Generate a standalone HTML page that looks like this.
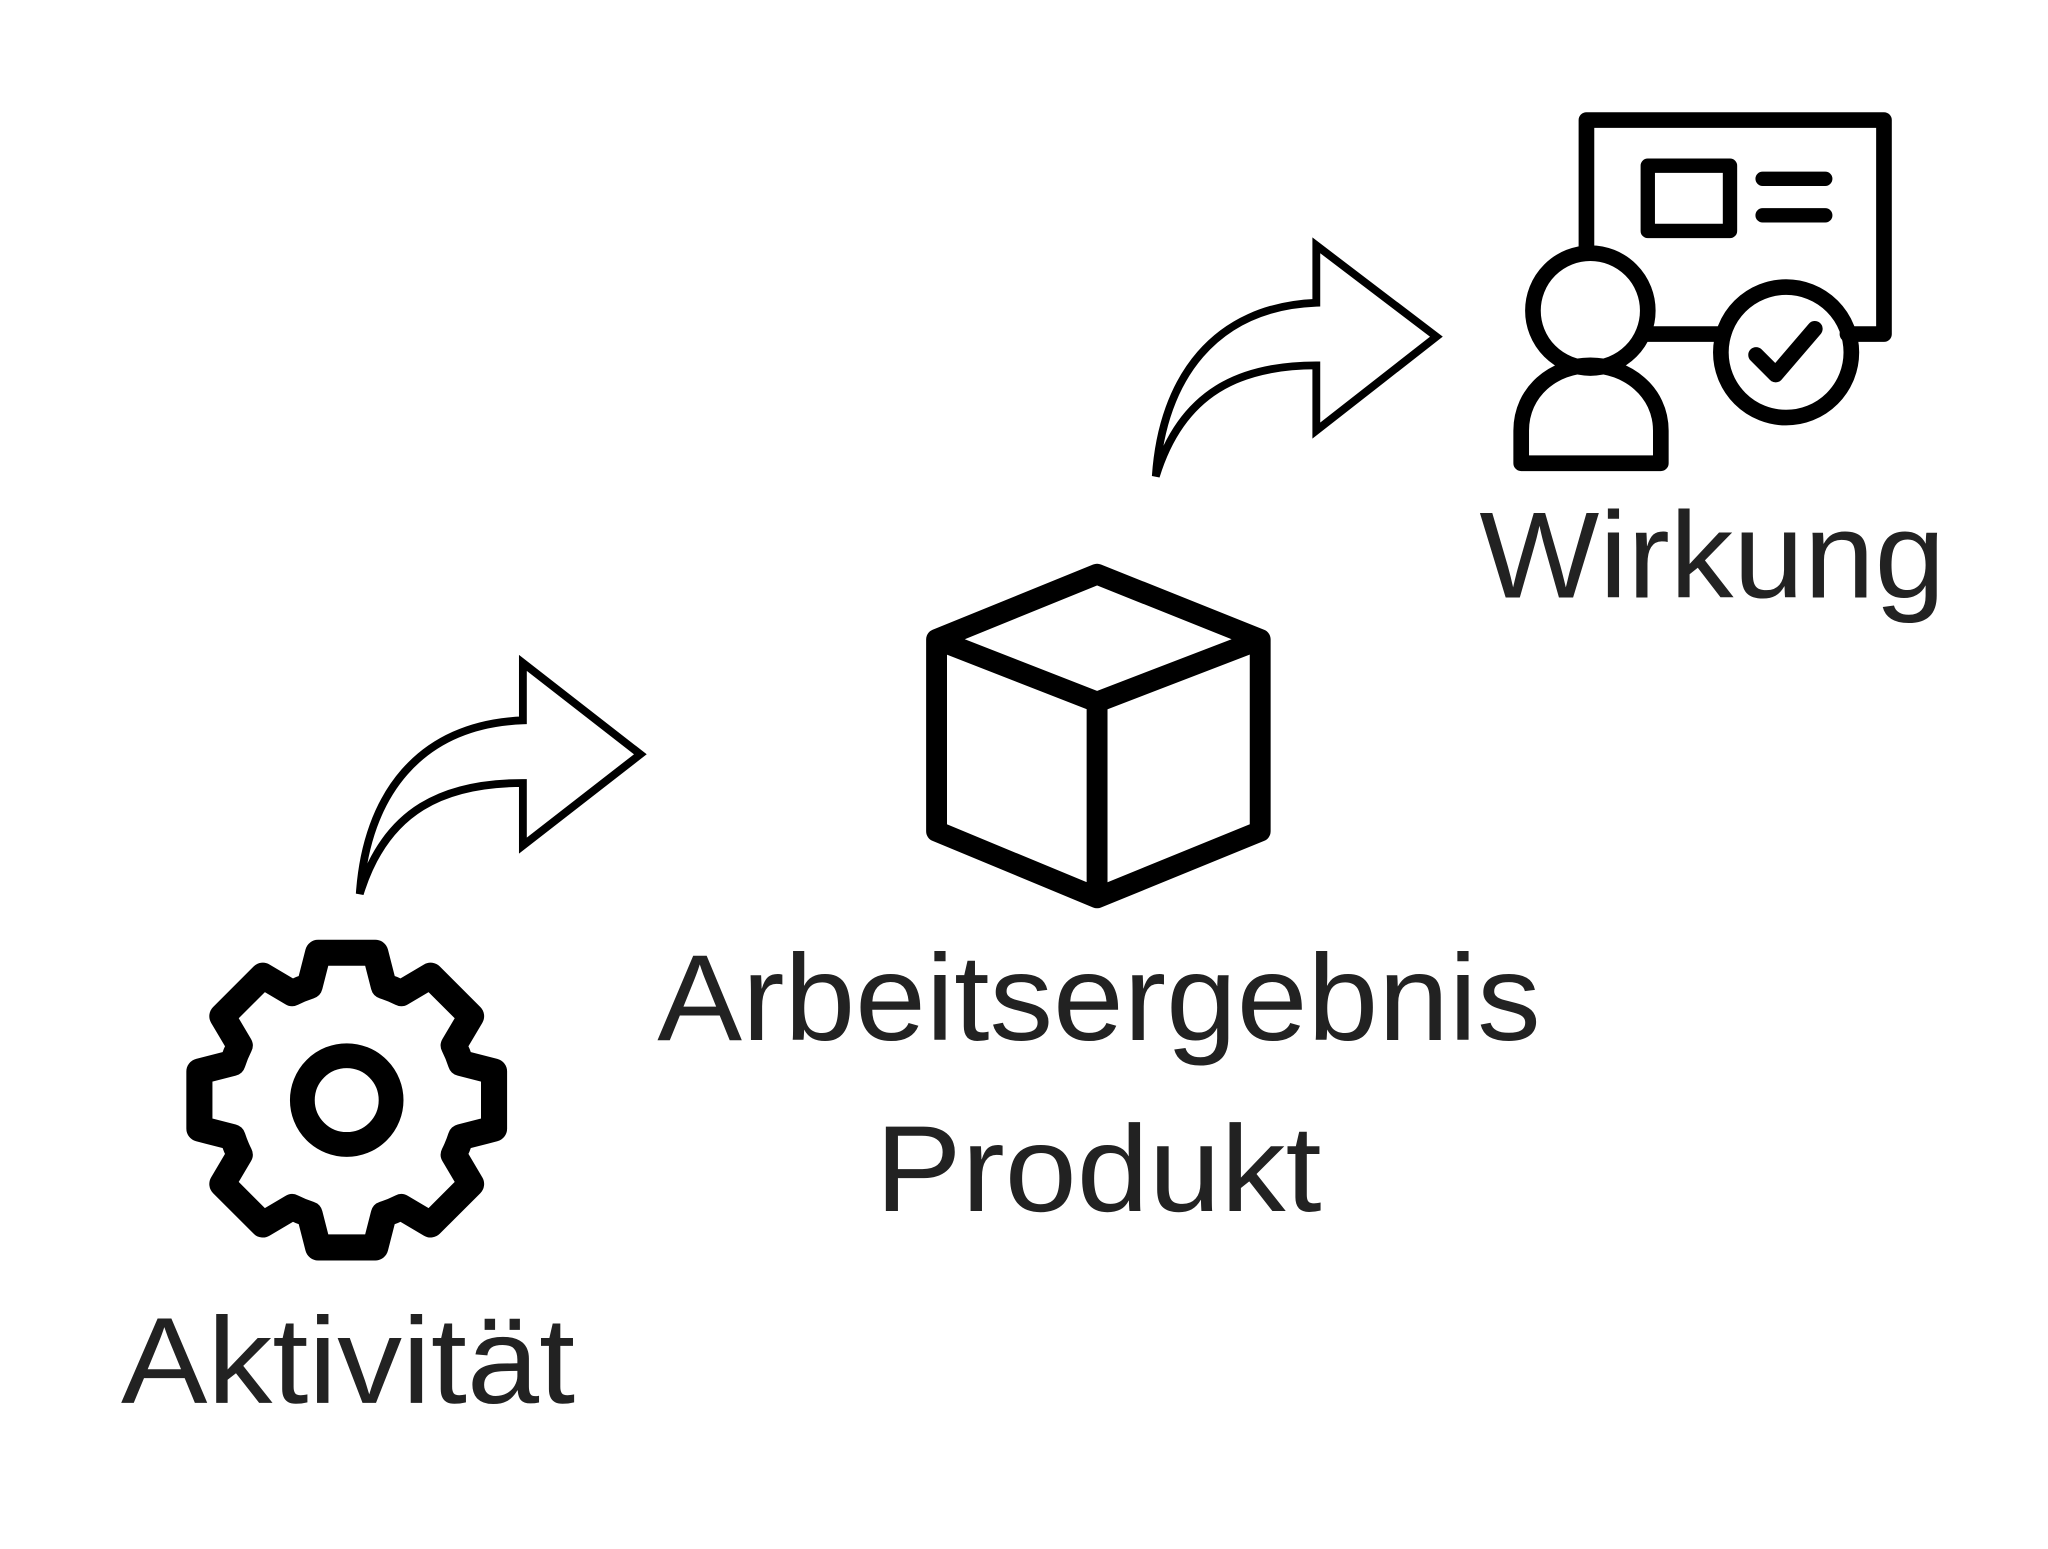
<!DOCTYPE html>
<html><head><meta charset="utf-8"><style>html,body{margin:0;padding:0;background:#fff}svg{display:block}</style></head>
<body>
<svg width="2048" height="1549" viewBox="0 0 1568 1187" xmlns="http://www.w3.org/2000/svg">
<rect width="1568" height="1187" fill="#fff"/>
<g fill="none" stroke="#000" stroke-linejoin="round" stroke-linecap="round">
<path id="gear" stroke-width="20"/>
<circle cx="265" cy="843" r="34" stroke-width="19"/>
<path d="M275,685 C280,610 320,555 400,552 L400,508 L490,578 L400,648 L400,600 C340,600 295,620 275,685 Z" stroke-width="6" stroke-linejoin="miter"/>
<path d="M885,365 C890,290 930,235 1008,232 L1008,188 L1100,258 L1008,330 L1008,280 C950,280 905,300 885,365 Z" stroke-width="6" stroke-linejoin="miter"/>
<path d="M840,440 L965,490 L965,637 L840,688 L717,637 L717,490 Z M717,490 L840,538 L965,490 M840,538 L840,688" stroke-width="16"/>
<path d="M1215,190 L1215,92 L1443,92 L1443,256 L1415,256 M1320,256 L1262,256" stroke-width="12"/>
<rect x="1262" y="127" width="63" height="50" stroke-width="11"/>
<path d="M1350,137 L1398,137 M1350,165 L1398,165" stroke-width="11"/>
<circle cx="1218" cy="238" r="44" stroke-width="12"/>
<path d="M1165,355 L1165,330 C1165,300 1190,280 1218,280 C1246,280 1272,300 1272,330 L1272,355 Z" stroke-width="12"/>
<circle cx="1368" cy="270" r="50" stroke-width="12"/>
<path d="M1345,272 L1360,287 L1390,252" stroke-width="12"/>
</g>
<g font-family="'Liberation Sans',sans-serif" fill="#222" font-size="94">
<text x="1133" y="458" textLength="357" lengthAdjust="spacingAndGlyphs">Wirkung</text>
<text x="503" y="797" textLength="677" lengthAdjust="spacingAndGlyphs">Arbeitsergebnis</text>
<text x="670" y="928" textLength="342" lengthAdjust="spacingAndGlyphs">Produkt</text>
<text x="92" y="1075" textLength="348" lengthAdjust="spacingAndGlyphs">Aktivität</text>
</g>
<script>
(function(){var cx=265,cy=843,R=115,r=92,d='';
function p(a,rad){a=a*Math.PI/180;return (cx+rad*Math.sin(a)).toFixed(1)+','+(cy-rad*Math.cos(a)).toFixed(1);}
for(var i=0;i<8;i++){var t=i*45;
d+=(i==0?'M':'L')+p(t-18,r)+' L'+p(t-11,R)+' L'+p(t+11,R)+' L'+p(t+18,r)+' A'+r+','+r+' 0 0 1 '+p(t+27,r)+' ';}
d+='Z';document.getElementById('gear').setAttribute('d',d);})();
</script>
</svg>
</body></html>
